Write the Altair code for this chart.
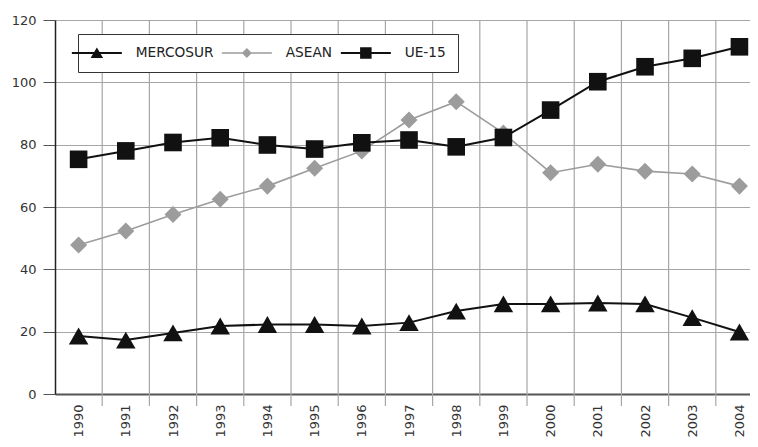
import altair as alt
import pandas as pd

years = list(range(1990, 2005))
mercosur = [18.6, 17.3, 19.6, 21.8, 22.3, 22.3, 21.8, 22.9, 26.6, 28.9, 28.9, 29.2, 28.9, 24.5, 19.9]
asean = [47.8, 52.3, 57.6, 62.5, 66.7, 72.4, 78.0, 87.9, 93.8, 83.7, 71.0, 73.7, 71.5, 70.6, 66.7]
ue15 = [75.3, 78.0, 80.7, 82.2, 79.9, 78.6, 80.6, 81.5, 79.3, 82.3, 91.1, 100.2, 105.0, 107.7, 111.4]

series_names = ["MERCOSUR", "ASEAN", "UE-15"]
series_colors = ["#111111", "#9c9c9c", "#111111"]
series_shapes = ["triangle-up", "diamond", "square"]
series_sizes = [380, 290, 310]
series_widths = [2, 1.6, 2]
legend_paths = [
    "M-5,-0.2H5V0.2H-5Z M0,-1.1L1.25,1L-1.25,1Z",
    "M-5,-0.15H5V0.15H-5Z M0,-1L1,0L0,1L-1,0Z",
    "M-5,-0.2H5V0.2H-5Z M-1.15,-1.15H1.15V1.15H-1.15Z",
]
y_ticks = [0, 20, 40, 60, 80, 100, 120]

values = {"MERCOSUR": mercosur, "ASEAN": asean, "UE-15": ue15}
rows = []
for name in series_names:
    for yr, v in zip(years, values[name]):
        rows.append({"year": yr, "value": v, "series": name})
df = pd.DataFrame(rows)
bounds = pd.DataFrame({"b": [y + 0.5 for y in years[:-1]]})

FONT = "DejaVu Sans"
W, H = 695, 374
xscale = alt.Scale(domain=[1989.5, 2004.224], nice=False, zero=False)
yscale = alt.Scale(domain=[0, 120], nice=False)

x_enc = alt.X("year:Q", scale=xscale, axis=alt.Axis(
    values=years, format="d", labelAngle=270, ticks=False, grid=False,
    domainColor="#555555", domainWidth=2, labelPadding=10, labelFontSize=13,
    labelFont=FONT, labelColor="#333333", title=None, labelFlush=False))
y_enc = alt.Y("value:Q", scale=yscale, axis=alt.Axis(
    values=y_ticks, grid=True, gridColor="#a6a6a6", gridWidth=1.2,
    domainColor="#222222", domainWidth=1.5, tickColor="#555555", tickSize=12,
    labelPadding=7, labelFontSize=13, labelFont=FONT, labelColor="#333333",
    title=None))

grid_rules = alt.Chart(bounds).mark_rule(color="#a6a6a6", strokeWidth=1.2).encode(
    x=alt.X("b:Q", scale=xscale),
    y=alt.value(0), y2=alt.value(H + 12))

layers = [grid_rules]
base = alt.Chart(df)
draw_order = [1, 2, 0]
for i in draw_order:
    name = series_names[i]
    sub = base.transform_filter(alt.datum.series == name)
    layers.append(sub.mark_line(color=series_colors[i], strokeWidth=series_widths[i]).encode(
        x=x_enc, y=y_enc))
    layers.append(sub.mark_point(shape=series_shapes[i], filled=True, opacity=1,
                                 size=series_sizes[i], color=series_colors[i]).encode(
        x=x_enc, y=y_enc))

def make_legend():
    return alt.Legend(title=None, orient="none", legendX=23, legendY=14,
                      direction="horizontal", fillColor="white",
                      strokeColor="#333333", padding=12,
                      symbolSize=100, symbolStrokeWidth=0, symbolOpacity=1,
                      labelOffset=32, columnPadding=7,
                      labelFontSize=13.7, labelFont=FONT, labelColor="#222222")

legend_layer = base.mark_point(filled=True, opacity=0).encode(
    x=x_enc, y=y_enc,
    color=alt.Color("series:N", scale=alt.Scale(domain=series_names, range=series_colors),
                    legend=make_legend()),
    shape=alt.Shape("series:N", scale=alt.Scale(domain=series_names, range=legend_paths),
                    legend=make_legend()),
)
layers.append(legend_layer)

chart = alt.layer(*layers).properties(
    width=W, height=H,
    autosize=alt.AutoSizeParams(type="none"),
    padding={"left": 47, "top": 12, "right": 0, "bottom": 45},
).configure_view(stroke=None).configure(background="white")

chart.save("out.html", embed_options={"renderer": "svg", "actions": False})
